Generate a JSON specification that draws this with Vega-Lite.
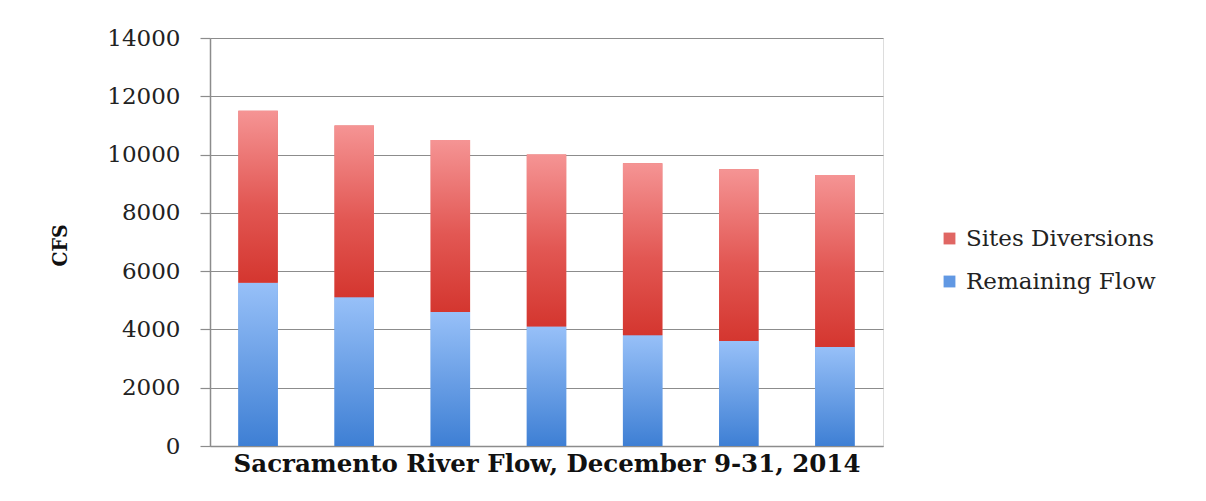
{
  "$schema": "https://vega.github.io/schema/vega-lite/v6.json",
  "width": 673,
  "height": 408,
  "autosize": {"type": "none"},
  "padding": {"left": 210, "top": 38, "right": 323, "bottom": 55},
  "background": "white",
  "data": {
    "values": [
      {"period": "1", "series": "Remaining Flow", "cfs": 5600},
      {"period": "1", "series": "Sites Diversions", "cfs": 5900},
      {"period": "2", "series": "Remaining Flow", "cfs": 5100},
      {"period": "2", "series": "Sites Diversions", "cfs": 5900},
      {"period": "3", "series": "Remaining Flow", "cfs": 4600},
      {"period": "3", "series": "Sites Diversions", "cfs": 5900},
      {"period": "4", "series": "Remaining Flow", "cfs": 4100},
      {"period": "4", "series": "Sites Diversions", "cfs": 5900},
      {"period": "5", "series": "Remaining Flow", "cfs": 3800},
      {"period": "5", "series": "Sites Diversions", "cfs": 5900},
      {"period": "6", "series": "Remaining Flow", "cfs": 3600},
      {"period": "6", "series": "Sites Diversions", "cfs": 5900},
      {"period": "7", "series": "Remaining Flow", "cfs": 3400},
      {"period": "7", "series": "Sites Diversions", "cfs": 5900}
    ]
  },
  "encoding": {
    "x": {
      "field": "period",
      "type": "ordinal",
      "scale": {"paddingInner": 0.59, "paddingOuter": 0.295},
      "axis": {
        "title": "Sacramento River Flow, December 9-31, 2014",
        "labels": false,
        "ticks": false,
        "domainColor": "#8c8c8c",
        "domainWidth": 1.5,
        "titleFont": "DejaVu Serif",
        "titleFontWeight": "bold",
        "titleFontSize": 24.5,
        "titleColor": "#111111",
        "titlePadding": 6
      }
    },
    "y": {
      "field": "cfs",
      "type": "quantitative",
      "stack": "zero",
      "scale": {"domain": [0, 14000], "nice": false},
      "axis": {
        "title": "CFS",
        "values": [0, 2000, 4000, 6000, 8000, 10000, 12000, 14000],
        "format": "d",
        "grid": true,
        "gridColor": "#8c8c8c",
        "gridWidth": 1.2,
        "tickColor": "#8c8c8c",
        "tickSize": 10,
        "tickWidth": 1.2,
        "domainColor": "#8c8c8c",
        "domainWidth": 1.5,
        "labelFont": "DejaVu Serif",
        "labelFontSize": 23,
        "labelColor": "#222222",
        "labelPadding": 20,
        "titleFont": "DejaVu Serif Condensed",
        "titleFontWeight": "bold",
        "titleFontSize": 21,
        "titleColor": "#111111",
        "titleX": -150,
        "titleY": 207,
        "titleAngle": -90,
        "titleAlign": "center",
        "titleBaseline": "middle"
      }
    },
    "order": {"field": "series", "sort": "ascending"}
  },
  "layer": [
    {
      "mark": {"type": "bar"},
      "encoding": {
        "color": {
          "field": "series",
          "type": "nominal",
          "scale": {
            "domain": ["Sites Diversions", "Remaining Flow"],
            "range": ["#e06663", "#6198e3"]
          },
          "legend": {
            "title": null,
            "orient": "none",
            "legendX": 728,
            "legendY": 189,
            "symbolType": "square",
            "symbolSize": 140,
            "symbolStrokeWidth": 0,
            "labelFont": "DejaVu Serif",
            "labelFontSize": 23,
            "labelColor": "#222222",
            "labelOffset": 5,
            "labelLimit": 400,
            "rowPadding": 19
          }
        }
      }
    },
    {
      "mark": {"type": "bar"},
      "encoding": {
        "detail": {"field": "series"},
        "color": {
          "condition": {
            "test": "datum.series === 'Remaining Flow'",
            "value": {
              "gradient": "linear",
              "x1": 0, "y1": 0, "x2": 0, "y2": 1,
              "stops": [
                {"offset": 0, "color": "#97c0f8"},
                {"offset": 1, "color": "#3e7fd4"}
              ]
            }
          },
          "value": {
            "gradient": "linear",
            "x1": 0, "y1": 0, "x2": 0, "y2": 1,
            "stops": [
              {"offset": 0, "color": "#f59494"},
              {"offset": 0.55, "color": "#e25753"},
              {"offset": 1, "color": "#d4362f"}
            ]
          }
        }
      }
    }
  ]
}
